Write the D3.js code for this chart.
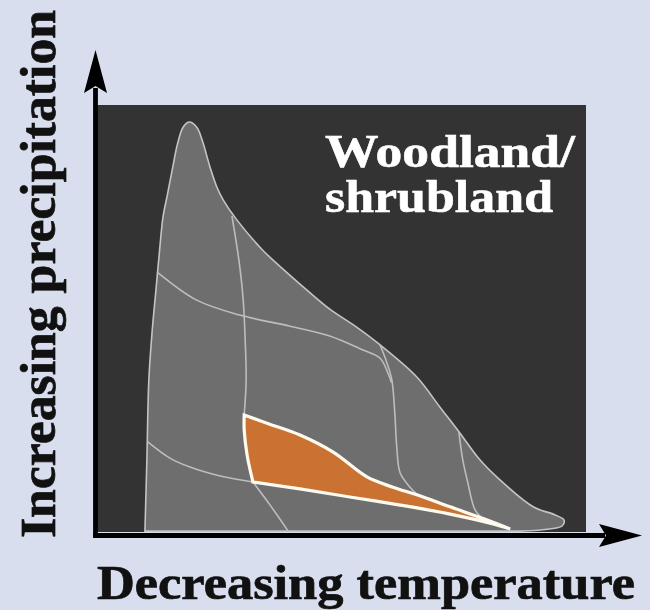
<!DOCTYPE html>
<html>
<head>
<meta charset="utf-8">
<script src="https://cdn.jsdelivr.net/npm/d3@7"></script>
<style>
  html, body { margin: 0; padding: 0; background: #d8deee; }
  svg { display: block; }
</style>
</head>
<body>
<svg id="chart" width="650" height="610"></svg>
<script>
// ---- Data (conceptual units: 0–100 on each axis) ----
const xAxisLabel = "Decreasing temperature";
const yAxisLabel = "Increasing precipitation";
const regionLabel = ["Woodland/", "shrubland"];

// Outline of the global climate envelope (clockwise from bottom-left)
const envelope = [[9.8,0.2],[10.2,16.9],[10.6,35.6],[11.3,47.3],[12.0,56.0],[12.8,66.0],[13.5,73.8],[14.4,79.0],[15.5,85.5],[16.4,90.6],[17.6,94.8],[18.8,96.0],[20.4,94.8],[21.5,91.8],[23.1,85.5],[24.5,80.8],[25.8,77.8],[28.6,73.1],[33.9,66.0],[38.9,60.7],[43.6,56.0],[47.6,52.2],[52.8,48.2],[57.9,43.8],[65.4,36.3],[70.1,29.3],[74.2,23.2],[78.3,16.9],[82.4,12.2],[89.2,5.9],[93.7,4.0],[95.5,2.8],[95.1,1.4],[92.6,0.7],[86.5,0.2]];

// Internal biome boundaries
const boundaryA = [[27.6,74.0],[28.4,68.4],[29.2,62.1],[29.9,54.3],[30.3,45.0],[30.5,35.6],[30.1,27.4]];
const boundaryA2 = [[31.9,11.7],[35.4,6.3],[39.1,0.2]];
const boundaryB = [[57.9,43.8],[59.3,39.6],[60.3,35.6],[60.9,27.9],[61.3,19.9],[62.0,13.8],[64.0,10.5],[65.4,8.9]];
const boundaryC = [[74.0,23.4],[74.8,16.9],[75.7,12.2],[77.3,5.2],[78.7,3.3]];
const boundaryD = [[12.5,60.7],[20.4,54.3],[29.2,50.8],[39.5,48.2],[47.6,45.9],[54.4,42.6],[57.9,40.7],[59.5,37.2],[60.2,35.0]];
const boundaryE = [[10.4,21.1],[14.9,17.3],[19.0,15.2],[25.2,13.1],[31.9,11.7]];

// Highlighted woodland/shrubland region
const regionTop = [[30.1,27.4],[35.2,25.3],[41.5,22.7],[48.3,18.7],[55.2,12.9],[60.5,10.5],[65.4,8.7],[72.2,5.9],[79.8,2.8],[84.5,0.7]];
const regionBottom = [[84.5,0.7],[81.0,1.9],[72.2,4.2],[62.0,6.3],[51.7,8.2],[41.5,10.1],[31.9,11.7]];
const regionLeft = [[31.9,11.7],[30.7,18.0],[30.1,23.9],[30.1,27.4]];

// ---- Drawing ----
const svg = d3.select("#chart");
const W = 650, H = 610;
const plot = { left: 97, right: 586, top: 105, bottom: 532 };

const x = d3.scaleLinear().domain([0, 100]).range([plot.left, plot.right]);
const y = d3.scaleLinear().domain([0, 100]).range([plot.bottom, plot.top]);

svg.append("rect").attr("width", W).attr("height", H).attr("fill", "#d8deee");

// plot background
svg.append("rect")
  .attr("x", x(0)).attr("y", y(100))
  .attr("width", x(100) - x(0)).attr("height", y(0) - y(100))
  .attr("fill", "#333333");

const line = d3.line().x(d => x(d[0])).y(d => y(d[1])).curve(d3.curveCatmullRom.alpha(0.5));

// envelope
svg.append("path")
  .attr("d", line(envelope) + "Z")
  .attr("fill", "#6e6e6e")
  .attr("stroke", "#c4c4c4")
  .attr("stroke-width", 1.6);

// boundaries
[boundaryA, boundaryA2, boundaryB, boundaryC, boundaryD, boundaryE].forEach(b => {
  svg.append("path")
    .attr("d", line(b))
    .attr("fill", "none")
    .attr("stroke", "#bdbdbd")
    .attr("stroke-width", 1.6);
});

// highlighted region
const joined = [regionTop, regionBottom, regionLeft]
  .map((seg, i) => { const p = line(seg); return i === 0 ? p : "L" + p.slice(1); })
  .join("") + "Z";
svg.append("path")
  .attr("d", joined)
  .attr("fill", "#c97232")
  .attr("stroke", "#fffaf0")
  .attr("stroke-width", 3.2)
  .attr("stroke-linejoin", "miter");

// axes
const axisColor = "#000";
const ax0 = x(0) - 1.5, ay0 = y(0) + 3.5;
svg.append("line").attr("x1", ax0).attr("y1", ay0 + 2.5).attr("x2", ax0).attr("y2", 88)
  .attr("stroke", axisColor).attr("stroke-width", 4.8);
svg.append("line").attr("x1", ax0 - 2.5).attr("y1", ay0).attr("x2", 605).attr("y2", ay0)
  .attr("stroke", axisColor).attr("stroke-width", 4.8);
// arrowheads
svg.append("path")
  .attr("d", `M${ax0},50 L${ax0 + 11.5},93 L${ax0},86 L${ax0 - 11.5},93 Z`)
  .attr("fill", axisColor);
svg.append("path")
  .attr("d", `M642,${ay0} L599,${ay0 - 11.5} L606,${ay0} L599,${ay0 + 11.5} Z`)
  .attr("fill", axisColor);

// labels
const serif = "'Liberation Serif', 'Times New Roman', serif";
svg.append("text")
  .attr("x", 97).attr("y", 599)
  .attr("font-family", serif).attr("font-weight", "bold").attr("font-size", 48)
  .attr("fill", "#111").attr("stroke", "#111").attr("stroke-width", 0.7)
  .attr("textLength", 538).attr("lengthAdjust", "spacingAndGlyphs")
  .text(xAxisLabel);

svg.append("text")
  .attr("transform", "translate(55,538) rotate(-90)")
  .attr("font-family", serif).attr("font-weight", "bold").attr("font-size", 50)
  .attr("fill", "#111").attr("stroke", "#111").attr("stroke-width", 0.7)
  .attr("textLength", 528).attr("lengthAdjust", "spacingAndGlyphs")
  .text(yAxisLabel);

const region = svg.append("text")
  .attr("font-family", serif).attr("font-weight", "bold").attr("font-size", 47)
  .attr("fill", "#fff").attr("stroke", "#fff").attr("stroke-width", 0.6);
region.append("tspan")
  .attr("x", 325).attr("y", 167)
  .attr("textLength", 250).attr("lengthAdjust", "spacingAndGlyphs")
  .text(regionLabel[0]);
region.append("tspan")
  .attr("x", 325).attr("y", 212)
  .attr("textLength", 228).attr("lengthAdjust", "spacingAndGlyphs")
  .text(regionLabel[1]);
</script>
</body>
</html>
